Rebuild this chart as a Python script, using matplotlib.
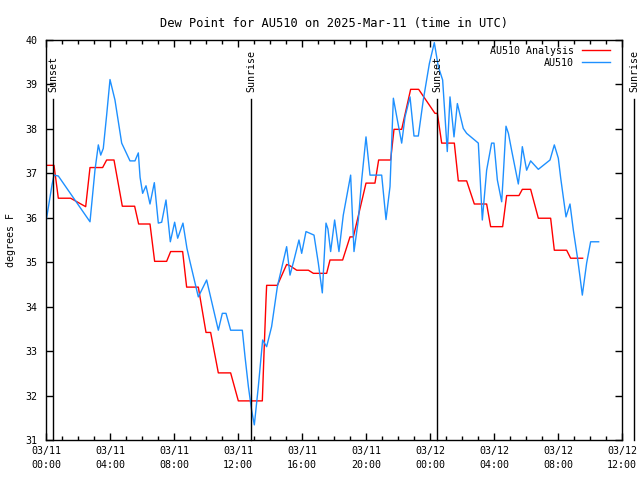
import matplotlib
matplotlib.use("Agg")
import matplotlib.pyplot as plt
from matplotlib.ticker import MultipleLocator

# hours since 2025-03-11 00:00 UTC
analysis_hours = [0.0, 0.5, 0.77, 1.54, 2.23, 2.48, 2.75, 3.54, 3.79, 4.25,
                  4.77, 5.54, 5.79, 6.5, 6.79, 7.54, 7.79, 8.54, 8.79, 9.52,
                  10.0, 10.29, 10.77, 11.54, 12.02, 13.52, 13.625, 13.75, 13.79, 14.46,
                  15.04, 15.25, 15.67, 16.4, 16.71, 17.54, 17.75, 18.54, 19.0, 19.21,
                  20.0, 20.56, 20.79, 21.54, 21.75, 22.23, 22.79, 23.29, 24.31, 24.46,
                  24.73, 25.52, 25.77, 26.29, 26.77, 27.54, 27.79, 28.54, 28.79, 29.56,
                  29.77, 30.29, 30.77, 31.54, 31.77, 32.54, 32.79, 33.54]
analysis_dewpt = [37.18, 37.18, 36.44, 36.44, 36.3, 36.25, 37.13, 37.13, 37.3, 37.3,
                  36.26, 36.26, 35.86, 35.86, 35.02, 35.02, 35.24, 35.24, 34.44, 34.44,
                  33.42, 33.42, 32.51, 32.51, 31.88, 31.88, 32.95, 34.15, 34.48, 34.48,
                  34.95, 34.92, 34.82, 34.82, 34.75, 34.75, 35.05, 35.05, 35.57, 35.57,
                  36.78, 36.78, 37.3, 37.3, 37.99, 37.99, 38.89, 38.89, 38.35, 38.35,
                  37.68, 37.68, 36.83, 36.83, 36.31, 36.31, 35.8, 35.8, 36.5, 36.5,
                  36.64, 36.64, 35.99, 35.99, 35.27, 35.27, 35.09, 35.09]

obs_hours = [0.0, 0.375, 0.5, 0.77, 2.75, 3.06, 3.27, 3.42, 3.58, 3.79,
             4.0, 4.31, 4.73, 5.25, 5.56, 5.77, 5.88, 6.04, 6.25, 6.5,
             6.77, 7.02, 7.23, 7.5, 7.77, 8.04, 8.23, 8.56, 8.81, 9.0,
             9.52, 10.04, 10.77, 11.02, 11.25, 11.54, 12.27, 12.44, 12.65, 12.85,
             13.02, 13.27, 13.54, 13.79, 14.1, 14.46, 15.04, 15.25, 15.5, 15.81,
             15.98, 16.25, 16.75, 17.02, 17.27, 17.5, 17.62, 17.79, 18.04, 18.31,
             18.58, 19.04, 19.25, 19.52, 19.73, 20.0, 20.25, 20.98, 21.25, 21.5,
             21.71, 21.96, 22.23, 22.44, 22.75, 23.0, 23.27, 23.58, 23.96, 24.27,
             24.52, 24.79, 25.08, 25.25, 25.5, 25.71, 26.08, 26.29, 27.02, 27.27,
             27.54, 27.85, 28.0, 28.21, 28.48, 28.58, 28.75, 28.9, 29.1, 29.52,
             29.67, 29.77, 30.04, 30.29, 30.77, 31.5, 31.77, 32.02, 32.17, 32.5,
             32.75, 32.96, 33.21, 33.375, 33.52, 33.79, 34.04, 34.54]
obs_dewpt = [35.91, 36.74, 36.96, 36.94, 35.91, 37.07, 37.64, 37.41, 37.56, 38.31,
             39.11, 38.65, 37.68, 37.28, 37.28, 37.46, 36.91, 36.55, 36.72, 36.31,
             36.79, 35.88, 35.9, 36.4, 35.46, 35.9, 35.54, 35.88, 35.31, 35.01,
             34.22, 34.6, 33.47, 33.85, 33.85, 33.47, 33.47, 32.87, 32.2, 31.67,
             31.34, 32.2, 33.25, 33.1, 33.55, 34.45, 35.35, 34.71, 35.05, 35.5,
             35.2, 35.69, 35.61, 34.98, 34.31, 35.88, 35.75, 35.24, 35.95, 35.24,
             36.06, 36.96, 35.24, 35.95, 36.85, 37.82, 36.96, 36.96, 35.96, 36.7,
             38.69, 38.2, 37.68, 38.27, 38.72, 37.84, 37.84, 38.65, 39.47, 39.94,
             39.4, 39.1, 37.49, 38.72, 37.82, 38.57, 38.01, 37.9, 37.68, 35.95,
             37.07, 37.68, 37.68, 36.85, 36.36, 36.96, 38.06, 37.9, 37.52, 36.76,
             37.2, 37.6, 37.07, 37.28, 37.09, 37.3, 37.64, 37.34, 36.89, 36.02,
             36.31, 35.72, 35.12, 34.67, 34.26, 34.98, 35.46, 35.46]

event_hours = [0.46, 12.83, 24.46, 36.75]
event_labels = ["Sunset", "Sunrise", "Sunset", "Sunrise"]

tick_hours = [0, 4, 8, 12, 16, 20, 24, 28, 32, 36]
tick_labels = ["03/11\n00:00", "03/11\n04:00", "03/11\n08:00", "03/11\n12:00",
               "03/11\n16:00", "03/11\n20:00", "03/12\n00:00", "03/12\n04:00",
               "03/12\n08:00", "03/12\n12:00"]

plt.rcParams['font.family'] = ['DejaVu Sans Mono']
plt.rcParams['font.size'] = 7.2

fig = plt.figure(figsize=(6.4, 4.8), dpi=100)
ax = fig.add_axes([46/640, 40/480, 576/640, 400/480])

ax.plot(analysis_hours, analysis_dewpt, color='#ff0000', lw=1.0, label='AU510 Analysis')
ax.plot(obs_hours, obs_dewpt, color='#1e90ff', lw=1.0, label='AU510')

# sunrise / sunset markers
for h, name in zip(event_hours, event_labels):
    ax.plot([h, h], [31, 38.67], color='black', lw=1.0, clip_on=False)
    ax.text(h, 38.83, name, rotation=90, ha='center', va='bottom', clip_on=False)

ax.set_xlim(0, 36)
ax.set_ylim(31, 40)
ax.set_xticks(tick_hours)
ax.set_xticklabels(tick_labels)
for lbl in ax.get_xticklabels():
    lbl.set_linespacing(1.5)
ax.xaxis.set_minor_locator(MultipleLocator(1))
ax.yaxis.set_major_locator(MultipleLocator(1))
ax.tick_params(which='both', direction='in', top=True, right=True, width=1.0)
ax.tick_params(which='major', length=5, pad=4)
ax.tick_params(which='minor', length=3)
ax.tick_params(axis='y', pad=6)
for s in ax.spines.values():
    s.set_linewidth(1.0)

ax.set_ylabel('degrees F')
ax.yaxis.set_label_coords(-0.052, 0.5)
ax.set_title('Dew Point for AU510 on 2025-Mar-11 (time in UTC)', pad=9)

ax.legend(loc='upper right', bbox_to_anchor=(1.0, 1.016), frameon=False,
          markerfirst=False, handlelength=2.8, borderaxespad=0.8,
          labelspacing=0.2, handletextpad=0.8)

fig.savefig('out.png', dpi=100)
